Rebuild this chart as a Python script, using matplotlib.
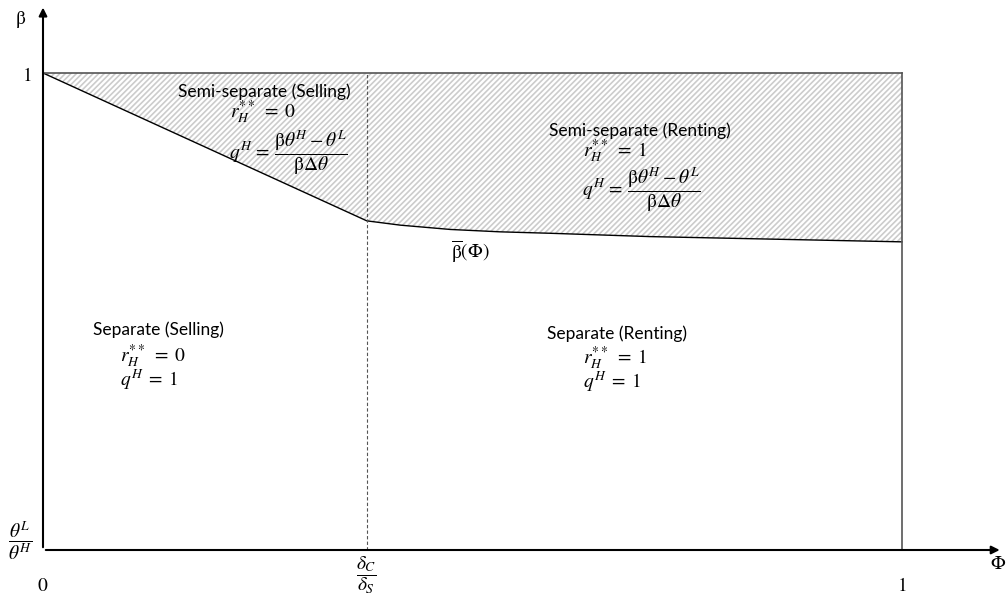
import numpy as np
import matplotlib.pyplot as plt

plt.rcParams['font.family'] = ['Lato', 'DejaVu Sans']
plt.rcParams['mathtext.fontset'] = 'stix'
plt.rcParams['hatch.color'] = '#cccccc'
plt.rcParams['hatch.linewidth'] = 1.2

# threshold on the Phi axis (delta_C / delta_S)
phi_cut = 0.377

# boundary beta_bar(Phi), normalised between theta_L/theta_H (0) and 1
phi_curve = [0.0, 0.377, 0.416, 0.474, 0.532, 0.590, 0.707, 1.0]
beta_curve = [1.0, 0.690, 0.681, 0.672, 0.667, 0.664, 0.657, 0.646]

fig = plt.figure(figsize=(10.06, 6.03), dpi=100)
ax = fig.add_axes([0, 0, 1, 1])
ax.set_xlim(-0.05006, 1.1211)
ax.set_ylim(-0.1111, 1.1530)
ax.axis('off')

# shaded semi-separate region
ax.fill_between(phi_curve, beta_curve, 1.0, facecolor='none', edgecolor='#cccccc',
                hatch='//////', linewidth=0)
ax.plot(phi_curve, beta_curve, color='black', lw=1.0)

# box
ax.plot([0, 1], [1, 1], color='#555555', lw=1.2)
ax.plot([1, 1], [0, 1], color='#555555', lw=1.2)
ax.plot([phi_cut, phi_cut], [0, 1], color='#555555', lw=0.8, ls=(0, (3, 2)))

# axes arrows
ax.annotate('', xy=(0, 1.143), xytext=(0, 0),
            arrowprops=dict(arrowstyle='-|>', color='black', lw=1.5, mutation_scale=12))
ax.annotate('', xy=(1.117, 0), xytext=(0, 0),
            arrowprops=dict(arrowstyle='-|>', color='black', lw=1.5, mutation_scale=12))

fs = 12.5
mfs = 14
frac_q = r'$q^H\,=\,\dfrac{\mathrm{\beta}\theta^H-\theta^L}{\mathrm{\beta}\Delta\theta}$'

ax.text(-0.026, 1.113, r'$\mathrm{\beta}$', fontsize=mfs, ha='center', va='center')
ax.text(-0.019, 0.996, r'$1$', fontsize=mfs, ha='center', va='center')
ax.text(-0.026, 0.02, r'$\dfrac{\theta^L}{\theta^H}$', fontsize=mfs, ha='center', va='center')
ax.text(0.0, -0.074, r'$0$', fontsize=mfs, ha='center', va='center')
ax.text(phi_cut, -0.053, r'$\dfrac{\delta_C}{\delta_S}$', fontsize=mfs, ha='center', va='center')
ax.text(1.0, -0.074, r'$1$', fontsize=mfs, ha='center', va='center')
ax.text(1.112, -0.028, r'$\Phi$', fontsize=mfs, ha='center', va='center')

ax.text(0.157, 0.960, 'Semi-separate (Selling)', fontsize=fs, ha='left', va='center')
ax.text(0.218, 0.918, r'$r_H^{**}\;=\;0$', fontsize=mfs, ha='left', va='center')
ax.text(0.216, 0.832, frac_q, fontsize=mfs, ha='left', va='center')

ax.text(0.589, 0.878, 'Semi-separate (Renting)', fontsize=fs, ha='left', va='center')
ax.text(0.629, 0.836, r'$r_H^{**}\;=\;1$', fontsize=mfs, ha='left', va='center')
ax.text(0.628, 0.756, frac_q, fontsize=mfs, ha='left', va='center')

ax.text(0.475, 0.625, r'$\overline{\mathrm{\beta}}(\Phi)$', fontsize=mfs, ha='left', va='center')

ax.text(0.058, 0.461, 'Separate (Selling)', fontsize=fs, ha='left', va='center')
ax.text(0.090, 0.407, r'$r_H^{**}\;=\;0$', fontsize=mfs, ha='left', va='center')
ax.text(0.090, 0.357, r'$q^H\;=\;1$', fontsize=mfs, ha='left', va='center')

ax.text(0.587, 0.453, 'Separate (Renting)', fontsize=fs, ha='left', va='center')
ax.text(0.629, 0.403, r'$r_H^{**}\;=\;1$', fontsize=mfs, ha='left', va='center')
ax.text(0.629, 0.352, r'$q^H\;=\;1$', fontsize=mfs, ha='left', va='center')

fig.savefig('out.png', dpi=100)
